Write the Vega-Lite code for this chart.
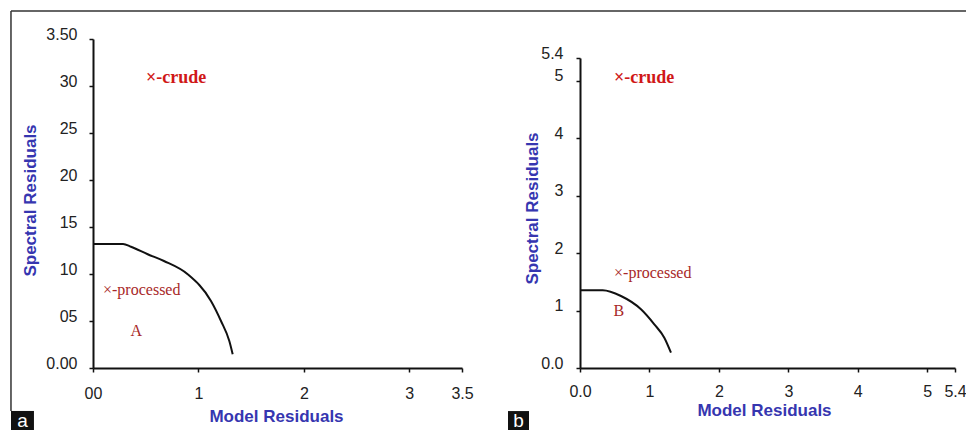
{
  "$schema": "https://vega.github.io/schema/vega-lite/v6.json",
  "autosize": {"type": "pad"},
  "padding": {"left": 10, "top": 10, "right": 0, "bottom": 0},
  "background": "white",
  "spacing": 118,
  "bounds": "flush",
  "config": {
    "view": {"stroke": null},
    "axis": {
      "grid": false,
      "domainColor": "#111",
      "domainWidth": 2,
      "tickColor": "#111",
      "tickWidth": 1.5,
      "tickSize": 4,
      "labelFont": "Liberation Sans",
      "labelFontSize": 16,
      "labelColor": "#222",
      "labelFlush": false,
      "labelOverlap": false,
      "labelBound": false,
      "titleFont": "Liberation Sans",
      "titleFontSize": 17,
      "titleFontWeight": "bold",
      "titleColor": "#3636b0"
    }
  },
  "datasets": {
    "curveA": [
      {"x": 0, "y": 1.32}, {"x": 0.285, "y": 1.32}, {"x": 0.36, "y": 1.29},
      {"x": 0.519, "y": 1.21}, {"x": 0.673, "y": 1.138}, {"x": 0.898, "y": 0.997},
      {"x": 1.119, "y": 0.713}, {"x": 1.214, "y": 0.5}, {"x": 1.293, "y": 0.287},
      {"x": 1.325, "y": 0.146}
    ],
    "curveB": [
      {"x": 0, "y": 1.355}, {"x": 0.327, "y": 1.354}, {"x": 0.59, "y": 1.254},
      {"x": 0.878, "y": 1.023}, {"x": 1.07, "y": 0.761}, {"x": 1.214, "y": 0.528},
      {"x": 1.31, "y": 0.267}
    ],
    "notesA": [
      {"kind": "crude", "label": "×-crude", "x": 0.503, "y": 3.085},
      {"kind": "processed", "label": "×-processed", "x": 0.095, "y": 0.83},
      {"kind": "region", "label": "A", "x": 0.41, "y": 0.394}
    ],
    "notesB": [
      {"kind": "crude", "label": "×-crude", "x": 0.49, "y": 5.05},
      {"kind": "processed", "label": "×-processed", "x": 0.49, "y": 1.655},
      {"kind": "region", "label": "B", "x": 0.56, "y": 0.99}
    ]
  },
  "hconcat": [
    {
      "width": 369,
      "height": 329,
      "layer": [
        {
          "data": {"name": "curveA"},
          "mark": {"type": "line", "color": "#111", "strokeWidth": 2, "interpolate": "monotone"},
          "encoding": {
            "x": {
              "field": "x", "type": "quantitative",
              "scale": {"domain": [0, 3.5], "nice": false, "zero": false},
              "axis": {
                "title": "Model Residuals",
                "values": [0, 1, 2, 3, 3.5],
                "labelPadding": 13,
                "labelExpr": "datum.value == 0 ? '00' : datum.value == 3.5 ? '3.5' : '' + datum.value",
                "titleX": 183,
                "titleY": 48,
                "titleBaseline": "middle"
              }
            },
            "y": {
              "field": "y", "type": "quantitative",
              "scale": {"domain": [0, 3.5], "nice": false, "zero": false},
              "axis": {
                "title": "Spectral Residuals",
                "values": [0, 0.5, 1, 1.5, 2, 2.5, 3, 3.5],
                "labelPadding": 12,
                "labelBaseline": "alphabetic",
                "labelExpr": "datum.value == 3.5 ? '3.50' : datum.value == 3 ? '30' : datum.value == 2.5 ? '25' : datum.value == 2 ? '20' : datum.value == 1.5 ? '15' : datum.value == 1 ? '10' : datum.value == 0.5 ? '05' : '0.00'",
                "titleX": -54,
                "titleY": 161
              }
            },
            "order": {"field": "x", "type": "quantitative"}
          }
        },
        {
          "data": {"name": "notesA"},
          "transform": [{"filter": "datum.kind == 'crude'"}],
          "mark": {"type": "text", "align": "left", "baseline": "middle", "font": "Liberation Serif", "fontSize": 18, "fontWeight": "bold", "color": "#d01818"},
          "encoding": {
            "x": {"field": "x", "type": "quantitative"},
            "y": {"field": "y", "type": "quantitative"},
            "text": {"field": "label"}
          }
        },
        {
          "data": {"name": "notesA"},
          "transform": [{"filter": "datum.kind == 'processed'"}],
          "mark": {"type": "text", "align": "left", "baseline": "middle", "font": "Liberation Serif", "fontSize": 16, "color": "#a82828"},
          "encoding": {
            "x": {"field": "x", "type": "quantitative"},
            "y": {"field": "y", "type": "quantitative"},
            "text": {"field": "label"}
          }
        },
        {
          "data": {"name": "notesA"},
          "transform": [{"filter": "datum.kind == 'region'"}],
          "mark": {"type": "text", "align": "center", "baseline": "middle", "font": "Liberation Serif", "fontSize": 16, "color": "#a82828"},
          "encoding": {
            "x": {"field": "x", "type": "quantitative"},
            "y": {"field": "y", "type": "quantitative"},
            "text": {"field": "label"}
          }
        },
        {
          "data": {"values": [{}]},
          "mark": {"type": "rule", "color": "#333", "strokeWidth": 1.5},
          "encoding": {
            "x": {"datum": -0.778, "type": "quantitative"},
            "x2": {"datum": 8.29},
            "y": {"datum": 3.798, "type": "quantitative"}
          }
        },
        {
          "data": {"values": [{}]},
          "mark": {"type": "rule", "color": "#333", "strokeWidth": 1.5},
          "encoding": {
            "x": {"datum": -0.778, "type": "quantitative"},
            "y": {"datum": 3.798, "type": "quantitative"},
            "y2": {"datum": -0.457}
          }
        },
        {
          "data": {"values": [{}]},
          "mark": {"type": "rect", "color": "#111"},
          "encoding": {
            "x": {"datum": -0.778, "type": "quantitative"},
            "x2": {"datum": -0.56},
            "y": {"datum": -0.457, "type": "quantitative"},
            "y2": {"datum": -0.67}
          }
        },
        {
          "data": {"values": [{}]},
          "mark": {"type": "text", "text": "a", "color": "white", "font": "Liberation Sans", "fontSize": 19, "align": "center", "baseline": "middle"},
          "encoding": {
            "x": {"datum": -0.669, "type": "quantitative"},
            "y": {"datum": -0.56, "type": "quantitative"}
          }
        }
      ]
    },
    {
      "width": 375,
      "height": 329,
      "layer": [
        {
          "data": {"name": "curveB"},
          "mark": {"type": "line", "color": "#111", "strokeWidth": 2, "interpolate": "monotone"},
          "encoding": {
            "x": {
              "field": "x", "type": "quantitative",
              "scale": {"domain": [0, 5.4], "nice": false, "zero": false},
              "axis": {
                "title": "Model Residuals",
                "values": [0, 1, 2, 3, 4, 5, 5.4],
                "labelPadding": 11,
                "labelExpr": "datum.value == 0 ? '0.0' : datum.value == 5.4 ? '5.4' : '' + datum.value",
                "titleX": 184,
                "titleY": 42,
                "titleBaseline": "middle"
              }
            },
            "y": {
              "field": "y", "type": "quantitative",
              "scale": {"domain": [0, 5.4], "range": [329, 19], "nice": false, "zero": false},
              "axis": {
                "title": "Spectral Residuals",
                "values": [0, 1, 2, 3, 4, 5, 5.4],
                "labelPadding": 13,
                "labelBaseline": "alphabetic",
                "labelExpr": "datum.value == 0 ? '0.0' : datum.value == 5.4 ? '5.4' : '' + datum.value",
                "titleX": -39,
                "titleY": 169
              }
            },
            "order": {"field": "x", "type": "quantitative"}
          }
        },
        {
          "data": {"name": "notesB"},
          "transform": [{"filter": "datum.kind == 'crude'"}],
          "mark": {"type": "text", "align": "left", "baseline": "middle", "font": "Liberation Serif", "fontSize": 18, "fontWeight": "bold", "color": "#d01818"},
          "encoding": {
            "x": {"field": "x", "type": "quantitative"},
            "y": {"field": "y", "type": "quantitative"},
            "text": {"field": "label"}
          }
        },
        {
          "data": {"name": "notesB"},
          "transform": [{"filter": "datum.kind == 'processed'"}],
          "mark": {"type": "text", "align": "left", "baseline": "middle", "font": "Liberation Serif", "fontSize": 16, "color": "#a82828"},
          "encoding": {
            "x": {"field": "x", "type": "quantitative"},
            "y": {"field": "y", "type": "quantitative"},
            "text": {"field": "label"}
          }
        },
        {
          "data": {"name": "notesB"},
          "transform": [{"filter": "datum.kind == 'region'"}],
          "mark": {"type": "text", "align": "center", "baseline": "middle", "font": "Liberation Serif", "fontSize": 16, "color": "#a82828"},
          "encoding": {
            "x": {"field": "x", "type": "quantitative"},
            "y": {"field": "y", "type": "quantitative"},
            "text": {"field": "label"}
          }
        },
        {
          "data": {"values": [{}]},
          "mark": {"type": "rect", "color": "#111"},
          "encoding": {
            "x": {"datum": -1.037, "type": "quantitative"},
            "x2": {"datum": -0.734},
            "y": {"datum": -0.75, "type": "quantitative"},
            "y2": {"datum": -1.099}
          }
        },
        {
          "data": {"values": [{}]},
          "mark": {"type": "text", "text": "b", "color": "white", "font": "Liberation Sans", "fontSize": 19, "align": "center", "baseline": "middle"},
          "encoding": {
            "x": {"datum": -0.886, "type": "quantitative"},
            "y": {"datum": -0.92, "type": "quantitative"}
          }
        }
      ]
    }
  ]
}
